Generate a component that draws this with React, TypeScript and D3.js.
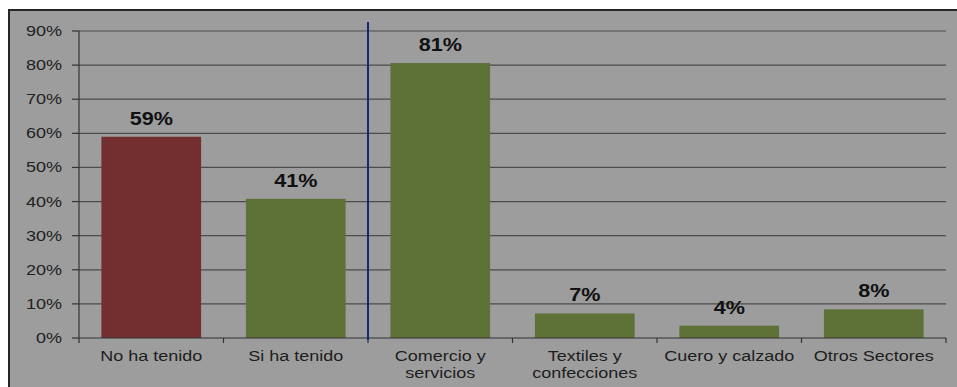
import React from 'react';
import * as d3 from 'd3';

// Data
const categories = ['No ha tenido', 'Si ha tenido', 'Comercio y servicios', 'Textiles y confecciones', 'Cuero y calzado', 'Otros Sectores'];
const categoryLines = [['No ha tenido'], ['Si ha tenido'], ['Comercio y', 'servicios'], ['Textiles y', 'confecciones'], ['Cuero y calzado'], ['Otros Sectores']];
const values = [59, 40.8, 80.6, 7.2, 3.6, 8.4];
const barColors = ['#732f30', '#5e7137', '#5e7137', '#5e7137', '#5e7137', '#5e7137'];
const yTicks = [0, 10, 20, 30, 40, 50, 60, 70, 80, 90];

const W = 957;
const H = 387;
const plot = { left: 79, right: 946, top: 31, bottom: 338 };
const SX = 1.2; // the source picture is stretched horizontally

const App: React.FC = () => {
  const x = d3.scaleBand<string>().domain(categories).range([plot.left, plot.right]).paddingInner(0.31).paddingOuter(0.155);
  const y = d3.scaleLinear().domain([0, 90]).range([plot.bottom, plot.top]);
  const step = x.step();
  const boundaries = d3.range(categories.length + 1).map(i => plot.left + i * step);
  const splitX = boundaries[2];
  const font = 'Liberation Sans, Arial, sans-serif';

  return <div style={{ position: 'absolute', left: 0, top: 0 }}>
      <svg width={W} height={H} style={{ display: 'block' }}>
        <rect x={0} y={0} width={W} height={H} fill="#ffffff" />
        <rect x={9} y={10} width={W} height={H} fill="#9d9d9d" stroke="#262626" strokeWidth={2} />
        {/* gridlines */}
        {yTicks.filter(t => t > 0).map(t => <line key={t} x1={plot.left} x2={plot.right} y1={y(t)} y2={y(t)} stroke="#4d4d4d" strokeWidth={1.2} />)}
        {/* bars */}
        {categories.map((c, i) => <rect key={c} x={x(c)} y={y(values[i])} width={x.bandwidth()} height={plot.bottom - y(values[i])} fill={barColors[i]} />)}
        {/* value labels */}
        {categories.map((c, i) => <text key={c} transform={`translate(${(x(c) || 0) + x.bandwidth() / 2},${y(values[i]) - 12}) scale(${SX},1)`} textAnchor="middle" fontFamily={font} fontWeight="bold" fontSize={18} fill="#111">
            {Math.round(values[i])}%
          </text>)}
        {/* y axis */}
        <line x1={plot.left} x2={plot.left} y1={plot.top} y2={plot.bottom} stroke="#333" strokeWidth={1.2} />
        {yTicks.map(t => <g key={t}>
            <line x1={plot.left - 7} x2={plot.left} y1={y(t)} y2={y(t)} stroke="#333" strokeWidth={1.2} />
            <text transform={`translate(${plot.left - 17},${y(t) + 5}) scale(${SX},1)`} textAnchor="end" fontFamily={font} fontSize={15} fill="#222">
              {t}%
            </text>
          </g>)}
        {/* x axis */}
        <line x1={plot.left} x2={plot.right} y1={plot.bottom} y2={plot.bottom} stroke="#333" strokeWidth={1.2} />
        {boundaries.map((b, i) => <line key={i} x1={b} x2={b} y1={plot.bottom} y2={plot.bottom + 5} stroke="#333" strokeWidth={1.2} />)}
        {categories.map((c, i) => <text key={c} transform={`translate(${(x(c) || 0) + x.bandwidth() / 2},${plot.bottom + 23}) scale(${SX},1)`} textAnchor="middle" fontFamily={font} fontSize={15} fill="#1e1e1e">
            {categoryLines[i].map((l, j) => <tspan key={j} x={0} dy={j === 0 ? 0 : 17}>{l}</tspan>)}
          </text>)}
        {/* separator */}
        <line x1={splitX} x2={splitX} y1={22} y2={plot.bottom + 2} stroke="#0d2a7c" strokeWidth={2} />
      </svg>
    </div>;
};

export default App;
